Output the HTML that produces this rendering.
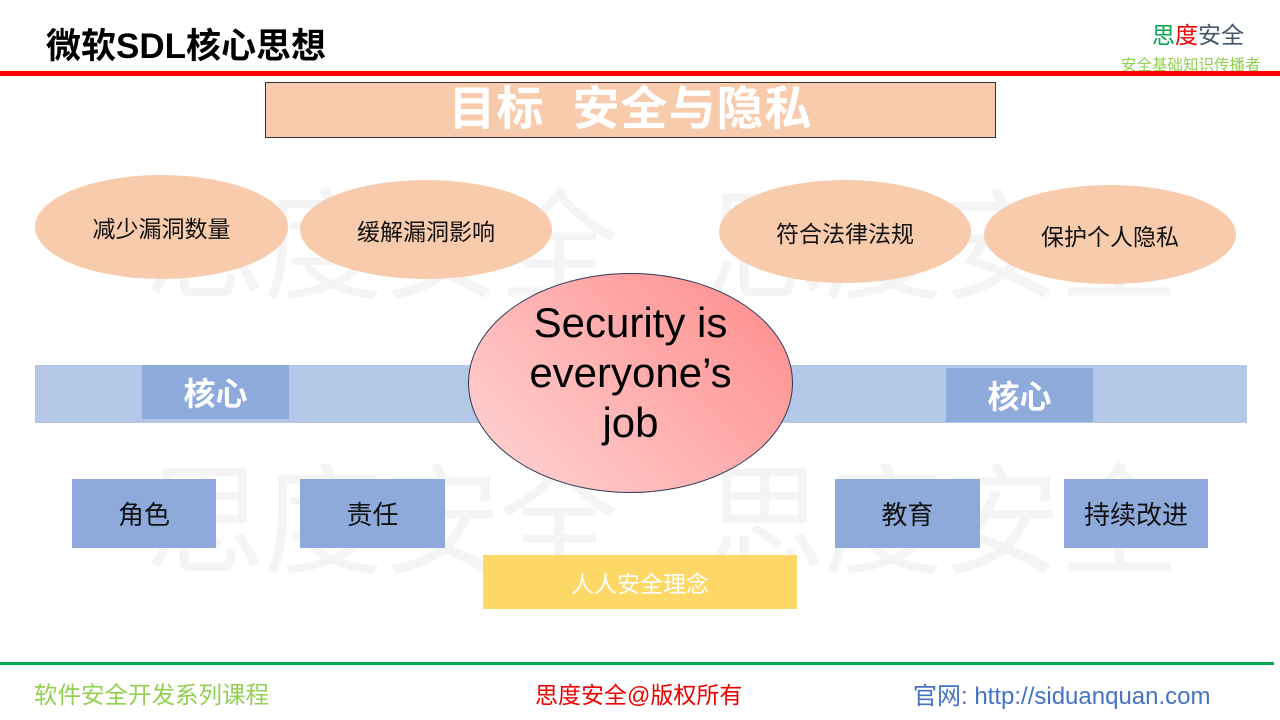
<!DOCTYPE html>
<html><head><meta charset="utf-8"><style>
body{margin:0;width:1280px;height:720px;position:relative;overflow:hidden;background:#fff;font-family:"Liberation Sans","Noto Sans CJK SC",sans-serif;}
.a{position:absolute;display:flex;align-items:center;justify-content:center;box-sizing:border-box;}
.e{border-radius:50%;background:#f7cbac;font-size:23px;color:#111;}
.wm{position:absolute;font-size:120px;color:#f4f4f4;white-space:nowrap;letter-spacing:-2px;}
.sq{background:#8eaadb;font-size:26px;color:#111;}
</style></head><body>
<div class="wm" style="left:145px;top:150px">思度安全</div>
<div class="wm" style="left:705px;top:150px">思度安全</div>
<div class="wm" style="left:145px;top:425px">思度安全</div>
<div class="wm" style="left:705px;top:425px">思度安全</div>
<div style="position:absolute;left:46px;top:18px;font-size:35px;font-weight:bold;color:#000">微软SDL核心思想</div>
<div style="position:absolute;left:1152px;top:16px;font-size:23px"><span style="color:#00a651">思</span><span style="color:#e00">度</span><span style="color:#44546a">安全</span></div>
<div style="position:absolute;left:1121px;top:53px;font-size:15.5px;color:#92d050">安全基础知识传播者</div>
<div style="position:absolute;left:0;top:71px;width:1280px;height:5px;background:#f00"></div>
<div class="a" style="left:265px;top:82px;width:731px;height:56px;background:#f7cbac;border:1px solid #333;color:#fff;font-size:47px;line-height:50px;font-weight:bold;letter-spacing:1px;padding-bottom:2px">目标&nbsp;&nbsp;安全与隐私</div>
<div class="a e" style="left:35px;top:175px;width:253px;height:104px">减少漏洞数量</div>
<div class="a e" style="left:300px;top:180px;width:252px;height:99px">缓解漏洞影响</div>
<div class="a e" style="left:719px;top:180px;width:252px;height:103px">符合法律法规</div>
<div class="a e" style="left:984px;top:185px;width:252px;height:99px">保护个人隐私</div>
<div style="position:absolute;left:35px;top:365px;width:1212px;height:58px;background:#b4c7e7"></div>
<div class="a" style="left:142px;top:365px;width:147px;height:54px;background:#8eaadb;color:#fff;font-size:32px;font-weight:bold">核心</div>
<div class="a" style="left:946px;top:368px;width:147px;height:54px;background:#8eaadb;color:#fff;font-size:32px;font-weight:bold">核心</div>
<div class="a" style="left:468px;top:273px;width:325px;height:220px;border-radius:50%;border:1px solid #2f3a5a;background:linear-gradient(225deg,#ff8a8a,#ffd6d6);font-family:'Liberation Sans',sans-serif;font-size:42px;line-height:50px;text-align:center;color:#000;padding-bottom:20px">Security is<br>everyone’s<br>job</div>
<div class="a sq" style="left:72px;top:479px;width:144px;height:69px">角色</div>
<div class="a sq" style="left:300px;top:479px;width:145px;height:69px">责任</div>
<div class="a sq" style="left:835px;top:479px;width:145px;height:69px">教育</div>
<div class="a sq" style="left:1064px;top:479px;width:144px;height:69px">持续改进</div>
<div class="a" style="left:483px;top:555px;width:314px;height:54px;background:#fdd866;color:#fff;font-size:23px">人人安全理念</div>
<div style="position:absolute;left:0;top:662px;width:1274px;height:3px;background:#00a651"></div>
<div style="position:absolute;left:34px;top:676px;font-size:23.5px;color:#92d050">软件安全开发系列课程</div>
<div style="position:absolute;left:535px;top:676px;font-size:23px;color:#e00">思度安全@版权所有</div>
<div style="position:absolute;left:913px;top:676px;font-size:24px;color:#4472c4">官网: http://siduanquan.com</div>
</body></html>
